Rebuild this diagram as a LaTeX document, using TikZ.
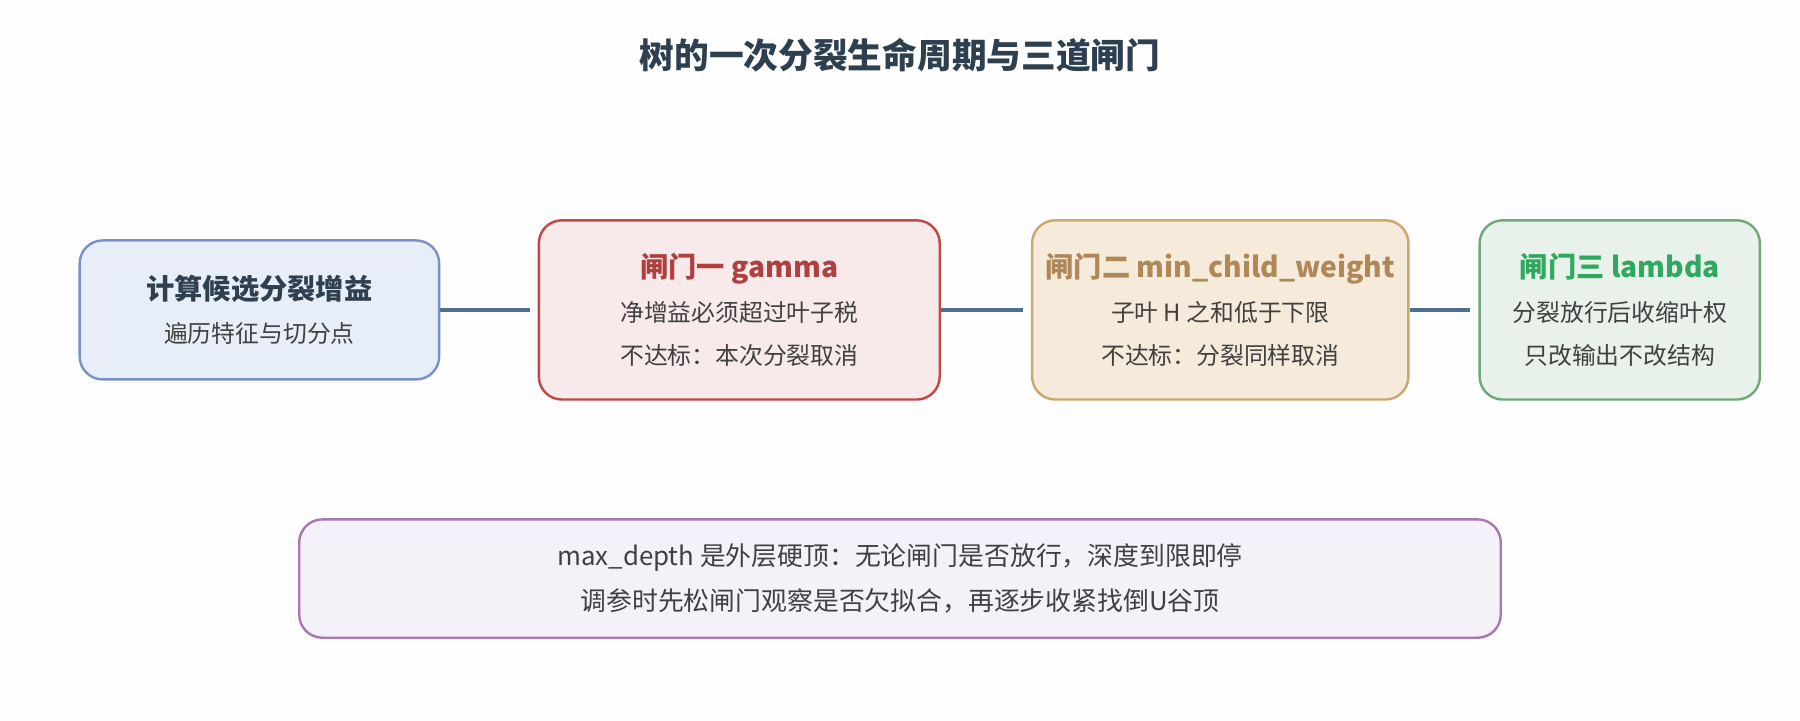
\documentclass[tikz,border=0pt]{standalone}
\usepackage{fontspec}
\setmainfont{Noto Sans CJK SC}
\usetikzlibrary{positioning}
\definecolor{ink}{HTML}{2E4050}
\definecolor{txt}{HTML}{404040}
\definecolor{link}{HTML}{4F6F90}
\definecolor{calcfill}{HTML}{E8EEF8}\definecolor{calcdraw}{HTML}{7A90C8}
\definecolor{gamfill}{HTML}{F8EAEA}\definecolor{gamdraw}{HTML}{C04848}\definecolor{gamtxt}{HTML}{B04040}
\definecolor{mcwfill}{HTML}{F6EBDA}\definecolor{mcwdraw}{HTML}{C8A870}\definecolor{mcwtxt}{HTML}{B08858}
\definecolor{lamfill}{HTML}{E8F2EA}\definecolor{lamdraw}{HTML}{70A878}\definecolor{lamtxt}{HTML}{30A860}
\definecolor{depfill}{HTML}{F4F2F8}\definecolor{depdraw}{HTML}{A878B0}
\newcommand\hdr[2]{{\fontsize{7}{10.8}\selectfont\bfseries\color{#1}#2}}
\tikzset{
  box/.style={draw, rounded corners=0.2cm, line width=0.6pt, align=center,
    text=txt, font=\fontsize{5.9}{10.8}\selectfont},
  link/.style={draw=link, line width=1.1pt, shorten >=0.07cm}
}
\begin{document}
\begin{tikzpicture}[x=0.01cm, y=-0.01cm]
  \fill[white!99!gray] (0,0) rectangle (1568,628);
  \useasboundingbox (0,0) rectangle (1568,628);
  \node[text=ink, font=\fontsize{8.6}{9}\selectfont\bfseries] (title) at (784,48) {树的一次分裂生命周期与三道闸门};
  % stages
  \node[box, fill=calcfill, draw=calcdraw, minimum width=3.13cm, minimum height=1.21cm] (calc) at (226,270)
    {\hdr{ink}{计算候选分裂增益}\\遍历特征与切分点};
  \node[box, fill=gamfill, draw=gamdraw, minimum width=3.49cm, minimum height=1.56cm] (gamma) at (644,270)
    {\hdr{gamtxt}{闸门一 gamma}\\净增益必须超过叶子税\\不达标：本次分裂取消};
  \node[box, fill=mcwfill, draw=mcwdraw, minimum width=3.14cm, minimum height=1.56cm] (mcw) at (1063,270)
    {\hdr{mcwtxt}{闸门二 min\_child\_weight}\\子叶 H 之和低于下限\\不达标：分裂同样取消};
  \node[box, fill=lamfill, draw=lamdraw, minimum width=2.44cm, minimum height=1.56cm] (lambda) at (1411,270)
    {\hdr{lamtxt}{闸门三 lambda}\\分裂放行后收缩叶权\\只改输出不改结构};
  \node[box, fill=depfill, draw=depdraw, minimum width=10.46cm, minimum height=1.03cm,
    font=\fontsize{6.4}{11.2}\selectfont] (depth) at (784,504)
    {max\_depth 是外层硬顶：无论闸门是否放行，深度到限即停\\调参时先松闸门观察是否欠拟合，再逐步收紧找倒U谷顶};
  % connectors
  \draw[link] (calc) -- (gamma);
  \draw[link] (gamma) -- (mcw);
  \draw[link] (mcw) -- (lambda);
\end{tikzpicture}
\end{document}
